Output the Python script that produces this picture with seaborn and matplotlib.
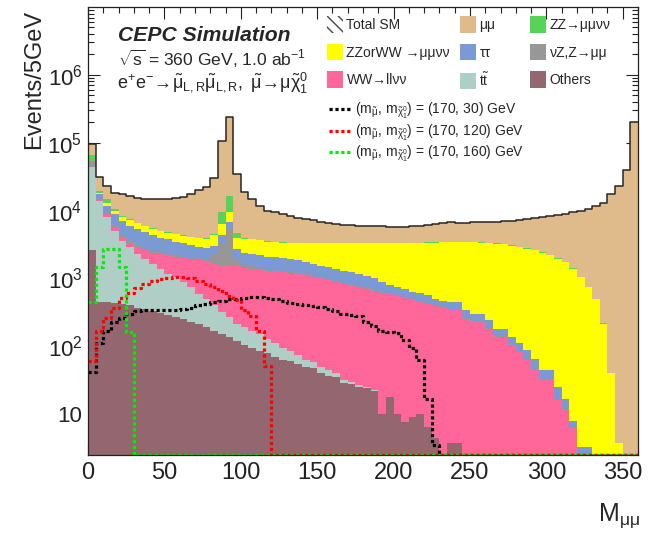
import numpy as np
import pandas as pd
import matplotlib
matplotlib.use("Agg")
import matplotlib.pyplot as plt
from matplotlib.patches import Patch
from matplotlib.lines import Line2D
from matplotlib.ticker import FixedLocator, FixedFormatter, MultipleLocator, LogLocator, NullFormatter
import seaborn as sns

# ---------------- data (events per 5 GeV bin, 0-360 GeV) ----------------
bin_width = 5
mass_range = (0, 360)

others = [2600, 450, 450, 430, 420, 400, 370, 350, 330, 310,
          290, 270, 250, 230, 210, 190, 170, 150, 135, 120,
          105, 95, 85, 79, 70, 62, 60, 55, 50, 48,
          40, 37, 35, 29, 28, 25, 24, 22, 10, 18,
          10, 7.7, 9, 10, 6.5, 4.4, 0, 3.8, 3.8, 0,
          0, 0, 0, 0, 0, 0, 0, 0, 0, 0,
          0, 0, 0, 0, 0, 0, 0, 0, 0, 0,
          0, 0]
ttilde = [40600, 13550, 7650, 4570, 3180, 2500, 1930, 1600, 1320, 1090,
          880, 770, 630, 520, 380, 310, 230, 170, 135, 95,
          85, 75, 65, 51, 40, 33, 25, 20, 12, 10,
          10, 7, 5, 3, 2, 2, 1, 0.5, 0, 0,
          0, 0, 0, 0, 0, 0, 0, 0, 0, 0,
          0, 0, 0, 0, 0, 0, 0, 0, 0, 0,
          0, 0, 0, 0, 0, 0, 0, 0, 0, 0,
          0, 0]
ww_llvv = [100, 500, 800, 600, 400, 400, 600, 650, 750, 900,
           1030, 1060, 1120, 1150, 1260, 1300, 1300, 1230, 1230, 1285,
           1260, 1230, 1200, 1170, 1160, 1145, 1115, 1095, 1058, 1002,
           950, 906, 850, 798, 760, 723, 675, 628, 600, 562,
           550, 512, 471, 440, 414, 396, 380, 336, 336, 255,
           230, 230, 180, 137, 137, 103, 82, 62, 44, 32,
           32, 16, 11.5, 6.2, 0, 0, 0, 0, 0, 0,
           0, 0]
nuz_zmumu = [10300, 500, 300, 300, 400, 300, 200, 150, 130, 120,
             110, 100, 100, 100, 120, 150, 600, 1650, 3800, 400,
             150, 100, 70, 40, 30, 30, 30, 30, 30, 25,
             25, 25, 20, 20, 20, 20, 15, 15, 15, 15,
             15, 15, 10, 10, 10, 10, 10, 10, 10, 7,
             7, 7, 5, 5, 5, 3, 3, 2, 2, 1,
             1, 0.5, 0.5, 0.3, 0, 0, 0, 0, 0, 0,
             0, 0]
tautau = [200, 2600, 2600, 3000, 2600, 2400, 2200, 2050, 1870, 1580,
          1440, 1300, 1200, 1100, 980, 900, 700, 1100, 1400, 800,
          800, 800, 780, 760, 750, 730, 690, 650, 600, 565,
          525, 475, 490, 450, 440, 400, 385, 335, 275, 205,
          175, 165, 140, 140, 130, 90, 80, 100, 100, 78,
          63, 63, 55, 38, 38, 31, 25, 23, 20, 11,
          11, 8.5, 5, 1.5, 3.3, 3.3, 0, 0, 0, 0,
          0, 0]
zzorww = [100, 400, 1200, 1100, 1000, 1300, 1200, 1100, 1000, 1000,
          950, 950, 950, 950, 950, 950, 1300, 2000, 2700, 1300,
          1450, 1450, 1450, 1400, 1350, 1350, 1380, 1450, 1550, 1650,
          1750, 1850, 1900, 2000, 2050, 2130, 2200, 2300, 2400, 2500,
          2550, 2600, 2670, 2700, 2790, 2850, 2930, 2950, 2950, 3060,
          3100, 3050, 3060, 3070, 3020, 2913, 2790, 2663, 2534, 2356,
          2156, 1925, 1713, 1392, 1037, 747, 500, 215, 40, 3.7,
          0, 0]
zz_mumuvv = [11000, 1600, 1800, 500, 400, 200, 150, 100, 100, 80,
             80, 70, 70, 70, 70, 80, 200, 3100, 7100, 700,
             100, 50, 50, 40, 40, 40, 40, 40, 40, 40,
             40, 40, 40, 40, 40, 40, 40, 40, 40, 40,
             40, 40, 40, 40, 40, 40, 40, 40, 40, 40,
             40, 40, 40, 40, 40, 40, 30, 30, 30, 25,
             25, 20, 20, 15, 10, 8, 5, 2, 0, 0,
             0, 0]
mumu = [30000, 11400, 8200, 7500, 9100, 9000, 8850, 9000, 9500, 9920,
        10220, 10980, 11680, 13380, 16030, 18120, 25500, 95600, 223500, 30300,
        15050, 11200, 7800, 6460, 5960, 5410, 4960, 4560, 4260, 3860,
        3560, 3260, 3060, 2860, 2760, 2660, 2660, 2560, 2560, 2460,
        2460, 2460, 2560, 2660, 2710, 2910, 3060, 3260, 3160, 3160,
        3260, 3310, 3460, 3610, 3760, 4010, 4370, 4720, 5070, 5575,
        6075, 6630, 7250, 7985, 8950, 9742, 10995, 12783, 17460, 22996,
        40000, 200000]

signal_170_30 = [42, 110, 170, 230, 260, 300, 330, 340, 345, 345,
                 345, 345, 350, 370, 400, 420, 450, 470, 490, 505,
                 515, 525, 530, 520, 500, 470, 440, 420, 400, 390,
                 380, 360, 330, 300, 285, 280, 230, 200, 170, 165,
                 155, 125, 95, 62, 17, 3.5, 0, 0, 0, 0,
                 0, 0, 0, 0, 0, 0, 0, 0, 0, 0,
                 0, 0, 0, 0, 0, 0, 0, 0, 0, 0,
                 0, 0]
signal_170_120 = [60, 170, 260, 370, 520, 620, 720, 840, 930, 980,
                  1030, 1040, 1040, 1000, 920, 840, 760, 660, 560, 480,
                  340, 280, 170, 52, 0, 0, 0, 0, 0, 0,
                  0, 0, 0, 0, 0, 0, 0, 0, 0, 0,
                  0, 0, 0, 0, 0, 0, 0, 0, 0, 0,
                  0, 0, 0, 0, 0, 0, 0, 0, 0, 0,
                  0, 0, 0, 0, 0, 0, 0, 0, 0, 0,
                  0, 0]
signal_170_160 = [450, 1460, 2700, 2700, 1460, 160, 0, 0, 0, 0,
                  0, 0, 0, 0, 0, 0, 0, 0, 0, 0,
                  0, 0, 0, 0, 0, 0, 0, 0, 0, 0,
                  0, 0, 0, 0, 0, 0, 0, 0, 0, 0,
                  0, 0, 0, 0, 0, 0, 0, 0, 0, 0,
                  0, 0, 0, 0, 0, 0, 0, 0, 0, 0,
                  0, 0, 0, 0, 0, 0, 0, 0, 0, 0,
                  0, 0]

# stack order: top -> bottom
process_keys = ["mumu", "zz", "zzww", "tautau", "nuz", "ww", "tt", "others"]
process_values = [mumu, zz_mumuvv, zzorww, tautau, nuz_zmumu, ww_llvv, ttilde, others]
process_labels = ["μμ", "ZZ→μμνν", "ZZorWW →μμνν", "ττ", "νZ,Z→μμ",
                  "WW→llνν", r"$\mathregular{t\tilde{t}}$", "Others"]
process_colors = ["#dfba8a", "#58d35a", "#ffff00", "#7b99d3", "#979797",
                  "#ff6699", "#afcec6", "#936670"]

signal_values = [signal_170_30, signal_170_120, signal_170_160]
signal_labels = [r"$\mathregular{(m_{\tilde{\mu}},\, m_{\tilde{\chi}^{0}_{1}})}$ = (170, 30) GeV",
                 r"$\mathregular{(m_{\tilde{\mu}},\, m_{\tilde{\chi}^{0}_{1}})}$ = (170, 120) GeV",
                 r"$\mathregular{(m_{\tilde{\mu}},\, m_{\tilde{\chi}^{0}_{1}})}$ = (170, 160) GeV"]
signal_colors = ["#000000", "#ff0000", "#00ee00"]

y_tick_values = [1e1, 1e2, 1e3, 1e4, 1e5, 1e6]
y_tick_labels = ["10", r"$\mathregular{10^{2}}$", r"$\mathregular{10^{3}}$",
                 r"$\mathregular{10^{4}}$", r"$\mathregular{10^{5}}$", r"$\mathregular{10^{6}}$"]
y_limits = (2.5, 1e7)

# ---------------- style ----------------
sns.set_style("ticks")
plt.rcParams["font.family"] = ["Liberation Sans", "DejaVu Sans"]
plt.rcParams["mathtext.fontset"] = "custom"
plt.rcParams["mathtext.rm"] = "Liberation Sans"
plt.rcParams["mathtext.it"] = "Liberation Sans:italic"
plt.rcParams["mathtext.bf"] = "Liberation Sans:bold"
plt.rcParams["hatch.linewidth"] = 1.0

W, H = 654, 533
fig = plt.figure(figsize=(W / 100, H / 100), dpi=100)
ax = fig.add_axes([88 / W, (H - 455) / H, 550 / W, 448 / H])

centers = np.arange(mass_range[0], mass_range[1], bin_width) + bin_width / 2
nb = len(centers)

df = pd.DataFrame({
    "M": np.tile(centers, len(process_keys)),
    "w": np.concatenate([np.asarray(v, float) for v in process_values]),
    "proc": np.repeat(process_keys, nb),
})

sns.histplot(data=df, x="M", weights="w", hue="proc", hue_order=process_keys,
             palette=dict(zip(process_keys, process_colors)),
             binwidth=bin_width, binrange=mass_range,
             multiple="stack", element="step", fill=True, alpha=1,
             linewidth=0, antialiased=False, legend=False, ax=ax)

total_sm = np.sum([np.asarray(v, float) for v in process_values], axis=0)
sns.histplot(x=centers, weights=total_sm, binwidth=bin_width, binrange=mass_range,
             element="step", fill=False, color="#262626", linewidth=1.1, ax=ax)

dot_style = (0, (1, 0.85))
for vals, col in zip(signal_values, signal_colors):
    v = np.asarray(vals, float)
    v = np.where(v > 0, v, y_limits[0])
    sns.histplot(x=centers, weights=v, binwidth=bin_width, binrange=mass_range,
                 element="step", fill=False,
                 color=col, linewidth=2.3, linestyle=dot_style, ax=ax)

ax.set_yscale("log")
ax.set_xlim(*mass_range)
ax.set_ylim(*y_limits)

ax.yaxis.set_major_locator(FixedLocator(y_tick_values))
ax.yaxis.set_major_formatter(FixedFormatter(y_tick_labels))
ax.yaxis.set_minor_locator(LogLocator(base=10, subs=np.arange(2, 10), numticks=50))
ax.yaxis.set_minor_formatter(NullFormatter())
ax.xaxis.set_major_locator(MultipleLocator(50))
ax.xaxis.set_minor_locator(MultipleLocator(10))

ax.tick_params(which="both", direction="in", top=True, right=True, colors="#222222")
ax.tick_params(which="major", length=8.5, width=0.8, pad=5)
ax.tick_params(which="minor", length=4.3, width=0.8)
ax.tick_params(axis="x", which="major", labelsize=17)
ax.tick_params(axis="y", which="major", labelsize=16, pad=4)
for s in ax.spines.values():
    s.set_linewidth(0.9)
    s.set_color("#222222")

ax.set_ylabel("Events/5GeV", fontsize=17, loc="top")
ax.yaxis.set_label_coords((45 - 88) / 550, 1 - 3 / 448)
ax.set_xlabel(r"M$_{\mathregular{\mu\mu}}$", fontsize=18, loc="right")
ax.xaxis.set_label_coords(1 + 2 / 550, -(501 - 455) / 448)

# ---------------- texts ----------------
fig.text(118 / W, 1 - 41 / H, "CEPC Simulation", fontsize=15.2, fontweight="bold",
         fontstyle="italic", va="baseline", ha="left")
fig.text(118 / W, 1 - 65.5 / H, r"$\mathregular{\sqrt{s}}$ = 360 GeV, 1.0 ab$^{\mathregular{-1}}$",
         fontsize=12.6, va="baseline", ha="left")
fig.text(117 / W, 1 - 88 / H,
         r"$\mathregular{e^{+}e^{-}\!\rightarrow\!\tilde{\mu}_{L,R}\tilde{\mu}_{L,R},\ \tilde{\mu}\!\rightarrow\!\mu\tilde{\chi}_{1}^{0}}$",
         fontsize=13, va="baseline", ha="left")

# ---------------- legends ----------------
fs = 10
handles = {k: Patch(facecolor=c, edgecolor="none", linewidth=0)
           for k, c in zip(process_keys, process_colors)}
labels = dict(zip(process_keys, process_labels))
total_handle = Patch(facecolor="white", edgecolor="#444444", linewidth=0, hatch="\\\\\\")

columns = [
    (327, [(total_handle, "Total SM"), (handles["zzww"], labels["zzww"]), (handles["ww"], labels["ww"])]),
    (460, [(handles["mumu"], labels["mumu"]), (handles["tautau"], labels["tautau"]), (handles["tt"], labels["tt"])]),
    (530, [(handles["zz"], labels["zz"]), (handles["nuz"], labels["nuz"]), (handles["others"], labels["others"])]),
]
for x0, entries in columns:
    fig.legend([e[0] for e in entries], [e[1] for e in entries], loc="upper left",
               bbox_to_anchor=(x0 / W, 1 - 16.5 / H), frameon=False, borderpad=0,
               borderaxespad=0, handlelength=1.15, handleheight=1.47,
               handletextpad=0.25, labelspacing=0.76, fontsize=fs)

sig_handles = [Line2D([], [], color=c, linewidth=2.3, linestyle=dot_style)
               for c in signal_colors]
fig.legend(sig_handles, signal_labels, loc="upper left",
           bbox_to_anchor=(329 / W, 1 - 101 / H), frameon=False, borderpad=0,
           borderaxespad=0, handlelength=1.6, handletextpad=0.25,
           labelspacing=0.09, fontsize=fs)

fig.savefig("out.png", dpi=100)
